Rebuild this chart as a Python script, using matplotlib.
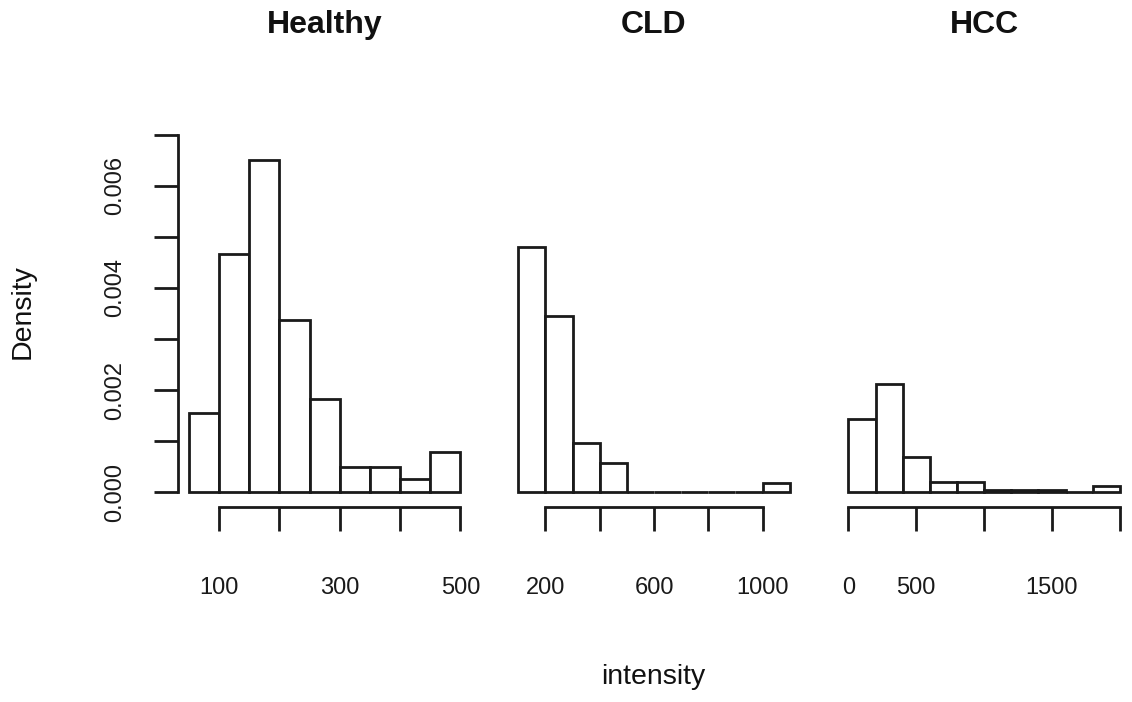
import numpy as np
import matplotlib
matplotlib.use('Agg')
import matplotlib.pyplot as plt

plt.rcParams['font.family'] = ['Liberation Sans', 'DejaVu Sans']

# histogram data (density per bin)
healthy_edges = [50, 100, 150, 200, 250, 300, 350, 400, 450, 500]
healthy_density = [0.00155, 0.00467, 0.0065, 0.00337, 0.00182, 0.0005, 0.0005, 0.00026, 0.00078]

cld_edges = [100, 200, 300, 400, 500, 600, 700, 800, 900, 1000, 1100]
cld_density = [0.0048, 0.00345, 0.00096, 0.00057, 0, 0, 0, 0, 0, 0.00018]

hcc_edges = [0, 200, 400, 600, 800, 1000, 1200, 1400, 1600, 1800, 2000]
hcc_density = [0.00143, 0.00212, 0.00068, 0.0002, 0.0002, 0.00005, 0.00005, 0.00005, 0, 0.00012]

titles = ['Healthy', 'CLD', 'HCC']
xticks = [[100, 200, 300, 400, 500], [200, 400, 600, 800, 1000], [0, 500, 1000, 1500, 2000]]
xlabels = [['100', '', '300', '', '500'], ['200', '', '600', '', '1000'], ['0', '500', '', '1500', '']]
yticks = [0, 0.001, 0.002, 0.003, 0.004, 0.005, 0.006, 0.007]
ylabels = ['0.000', '', '0.002', '', '0.004', '', '0.006', '']

W, H = 1132, 702
fig = plt.figure(figsize=(W / 100, H / 100), dpi=100)

# plot regions in pixels (left, right), and x limits
lefts = [178, 507.4, 837.5]
width = 293.2
xlims = [(32, 518), (60, 1140), (-80, 2080)]
bottom_px, top_px = 506.5, 120.3

ink = '#1a1a1a'
lw = 2.0
data = [(healthy_edges, healthy_density), (cld_edges, cld_density), (hcc_edges, hcc_density)]

for i, (edges, dens) in enumerate(data):
    ax = fig.add_axes([lefts[i] / W, 1 - bottom_px / H, width / W, (bottom_px - top_px) / H])
    e = np.array(edges)
    ax.bar(e[:-1], dens, width=np.diff(e), align='edge', color='white',
           edgecolor=ink, linewidth=lw)
    ax.set_xlim(*xlims[i])
    ax.set_ylim(-0.00028, 0.00728)
    for s in ['top', 'right']:
        ax.spines[s].set_visible(False)
    ax.spines['bottom'].set_bounds(xticks[i][0], xticks[i][-1])
    ax.spines['bottom'].set_linewidth(lw)
    ax.spines['bottom'].set_color(ink)
    ax.set_xticks(xticks[i])
    ax.set_xticklabels(xlabels[i])
    ax.tick_params(axis='x', direction='out', length=17, width=lw, color=ink,
                   pad=34, labelsize=17, labelcolor=ink)
    if i == 0:
        ax.spines['left'].set_bounds(0, 0.007)
        ax.spines['left'].set_linewidth(lw)
        ax.spines['left'].set_color(ink)
        ax.set_yticks(yticks)
        ax.set_yticklabels(ylabels, rotation=90, va='center')
        ax.tick_params(axis='y', direction='out', length=17, width=lw, color=ink,
                       pad=20, labelsize=17, labelcolor=ink)
    else:
        ax.spines['left'].set_visible(False)
        ax.set_yticks([])
    ax.patch.set_visible(False)
    fig.text((lefts[i] + width / 2) / W, 1 - 25 / H, titles[i], ha='center', va='center',
             fontsize=23, fontweight='bold', color='#111')

fig.text(653 / W, 1 - 677 / H, 'intensity', ha='center', va='center', fontsize=20.5, color='#111')
fig.text(23 / W, 1 - 312 / H, 'Density', ha='center', va='center', rotation=90,
         fontsize=20.5, color='#111')

fig.savefig('out.png', dpi=100, facecolor='white')
